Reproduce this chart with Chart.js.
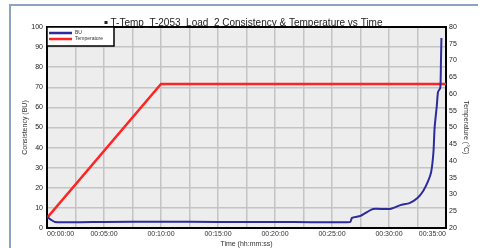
<!DOCTYPE html>
<html>
<head>
<meta charset="utf-8">
<script src="https://cdn.jsdelivr.net/npm/chart.js@4.4.0/dist/chart.umd.min.js"></script>
<style>
  html, body { margin: 0; padding: 0; background: #fff; }
  #wrap { position: relative; width: 478px; height: 248px; overflow: hidden; }
  #frame { position: absolute; left: 9px; top: 4px; width: 600px; height: 400px;
           border-left: 2px solid #8ea3bd; border-top: 2px solid #8ea3bd; }
  canvas { position: absolute; left: 0; top: 0; }
</style>
</head>
<body>
<div id="wrap">
  <div id="frame"></div>
  <canvas id="chart" width="478" height="248"></canvas>
</div>
<script>
// tempo em minutos
const tempoConsist = [0, 0.7, 5, 10, 15, 20, 26.6, 26.75, 27.5, 28.1, 28.6, 30.1, 31.0, 31.8, 32.5, 33.0, 33.4, 33.7, 33.9, 34.0, 34.2, 34.3, 34.5, 34.56, 34.6];
const consistencia = [5.5, 3.0, 3.0, 3.1, 3.0, 3.0, 3.0, 5.0, 6.0, 8.0, 9.5, 9.5, 11.4, 12.4, 14.9, 18.4, 22.9, 27.9, 37.8, 49.8, 61.2, 67.7, 69.7, 83.6, 94.5];
const tempoTemp = [0, 10, 35];
const temperatura = [23, 63, 63];
const rotulosTempo = ['00:00:00', '00:05:00', '00:10:00', '00:15:00', '00:20:00', '00:25:00', '00:30:00', '00:35:00'];

const titulo = 'T-Temp_T-2053_Load_2 Consistency & Temperature vs Time';
const fonte = 'Liberation Sans, Arial, sans-serif';

// fundo da area do grafico, borda superior, titulo e legenda
const extras = {
    id: 'extras',
    beforeDraw(chart) {
        const { ctx, chartArea: a } = chart;
        ctx.save();
        ctx.fillStyle = '#ededed';
        ctx.fillRect(a.left, a.top, a.right - a.left, a.bottom - a.top);
        ctx.restore();
    },
    afterDraw(chart) {
        const { ctx, chartArea: a } = chart;
        ctx.save();
        ctx.strokeStyle = '#000';
        ctx.lineWidth = 2;
        ctx.beginPath();
        ctx.moveTo(a.left - 1, a.top);
        ctx.lineTo(a.right + 1, a.top);
        ctx.stroke();

        // titulo
        ctx.font = '10px ' + fonte;
        const w = ctx.measureText(titulo).width;
        const cx = (a.left + a.right) / 2;
        ctx.fillStyle = '#fff';
        ctx.fillRect(cx - w / 2 - 7, a.top - 10, w + 12, 9);
        ctx.fillStyle = '#222';
        ctx.textAlign = 'center';
        ctx.textBaseline = 'middle';
        ctx.fillText(titulo, cx, a.top - 4);
        ctx.fillRect(cx - w / 2 - 6, a.top - 6, 3, 3);

        // legenda
        const lx = a.left, ly = a.top;
        ctx.fillStyle = '#fff';
        ctx.fillRect(lx, ly, 67, 19);
        ctx.strokeStyle = '#000';
        ctx.lineWidth = 1.5;
        ctx.strokeRect(lx, ly, 67, 19);
        chart.data.datasets.forEach((ds, i) => {
            const y = ly + 6 + i * 6;
            ctx.strokeStyle = ds.borderColor;
            ctx.lineWidth = 2.5;
            ctx.beginPath();
            ctx.moveTo(lx + 2, y);
            ctx.lineTo(lx + 25, y);
            ctx.stroke();
            ctx.fillStyle = '#333';
            ctx.font = '5px ' + fonte;
            ctx.textAlign = 'left';
            ctx.fillText(ds.label, lx + 28, y);
        });
        ctx.restore();
    }
};

const ctx = document.getElementById('chart').getContext('2d');

new Chart(ctx, {
    type: 'line',
    data: {
        datasets: [{
            label: 'BU',
            data: tempoConsist.map((t, i) => ({ x: t, y: consistencia[i] })),
            borderColor: '#2b2b9c',
            borderWidth: 2,
            pointRadius: 0,
            tension: 0.2,
            yAxisID: 'y'
        }, {
            label: 'Temperature',
            data: tempoTemp.map((t, i) => ({ x: t, y: temperatura[i] })),
            borderColor: '#ff2424',
            borderWidth: 2.5,
            pointRadius: 0,
            yAxisID: 'y1'
        }]
    },
    options: {
        responsive: false,
        animation: false,
        layout: { padding: { left: 21, right: 8, top: 27, bottom: 0 } },
        plugins: { legend: { display: false }, tooltip: { enabled: false } },
        scales: {
            x: {
                type: 'linear',
                min: 0, max: 35,
                afterFit: s => { s.height = 20; },
                ticks: {
                    stepSize: 2.5,
                    autoSkip: false,
                    maxRotation: 0,
                    align: 'inner',
                    padding: 2,
                    color: '#333',
                    font: { size: 7, family: fonte },
                    callback: v => (v % 5 === 0 ? rotulosTempo[v / 5] : '')
                },
                grid: { color: '#c4c4c4', lineWidth: 1.5, drawTicks: false },
                border: { color: '#000', width: 2 },
                title: { display: true, text: 'Time (hh:mm:ss)', color: '#333', font: { size: 7, family: fonte }, padding: 0 }
            },
            y: {
                position: 'left',
                min: 0, max: 100,
                afterFit: s => { s.width = 26; },
                ticks: {
                    stepSize: 5,
                    padding: 4,
                    color: '#222',
                    font: { size: 7, family: fonte },
                    callback: v => (v % 10 === 0 ? String(v) : '')
                },
                grid: { color: '#c4c4c4', lineWidth: 1.5, drawTicks: false },
                border: { color: '#000', width: 2 },
                title: { display: true, text: 'Consistency (BU)', color: '#333', font: { size: 7, family: fonte }, padding: 0 }
            },
            y1: {
                position: 'right',
                min: 20, max: 80,
                afterFit: s => { s.width = 24; },
                ticks: {
                    stepSize: 5,
                    padding: 3,
                    color: '#222',
                    font: { size: 7, family: fonte }
                },
                grid: { drawOnChartArea: false, drawTicks: false },
                border: { color: '#000', width: 2 },
                title: { display: true, text: 'Temperature (°C)', color: '#333', font: { size: 7, family: fonte }, padding: 0 }
            }
        }
    },
    plugins: [extras]
});
</script>
</body>
</html>
